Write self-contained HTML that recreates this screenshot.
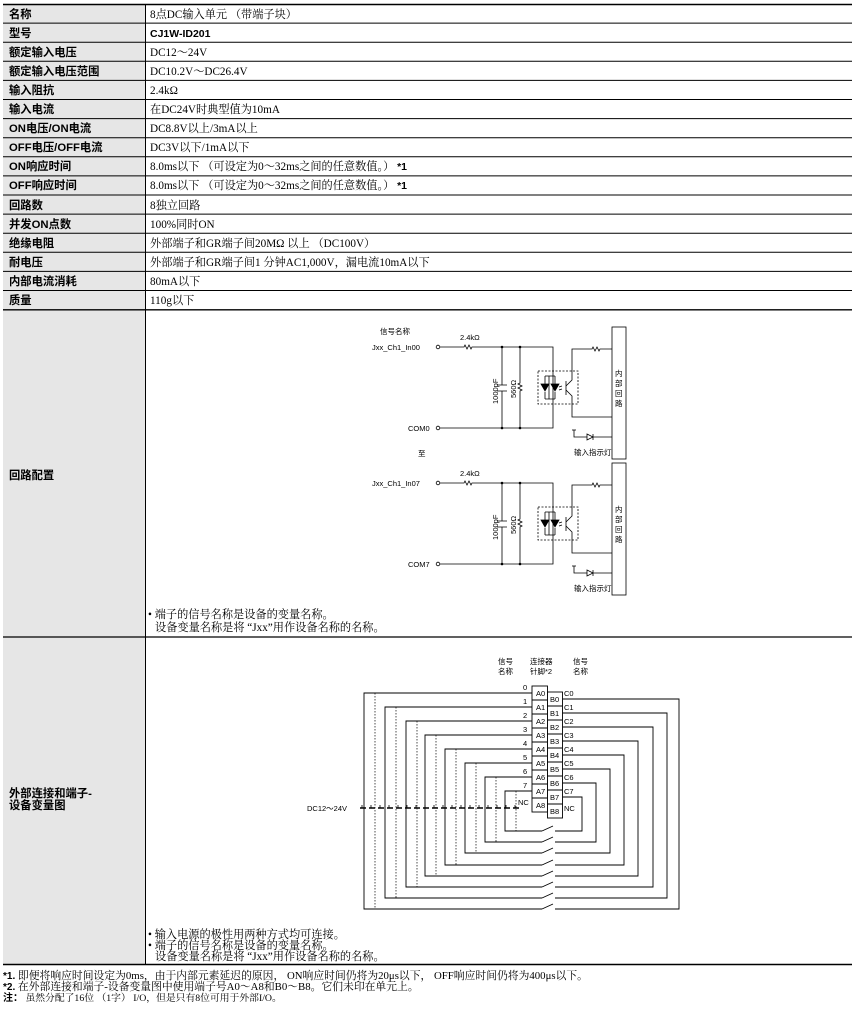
<!DOCTYPE html>
<html><head><meta charset="utf-8"><style>
html,body{margin:0;padding:0;background:#fff;width:855px;height:1009px;overflow:hidden}
svg{display:block}
.l{font-family:"Liberation Sans","Noto Sans CJK SC",sans-serif;font-weight:bold;font-size:11.3px}
.r{font-family:"Liberation Serif","Noto Serif CJK SC",serif;font-size:11.2px}
.n{font-family:"Liberation Serif","Noto Serif CJK SC",serif;font-size:11.2px}
.s{font-family:"Liberation Sans","Noto Sans CJK SC",sans-serif;font-size:7.5px}
.f{font-family:"Liberation Serif","Noto Serif CJK SC",serif;font-size:10.8px}
</style></head><body>
<svg width="855" height="1009" viewBox="0 0 855 1009" xmlns="http://www.w3.org/2000/svg">
<rect x="3" y="4" width="142" height="961" fill="#e6e6e6"/>
<g stroke="#000" stroke-width="1">
<line x1="3" y1="4.5" x2="852" y2="4.5" stroke-width="1.5"/>
<line x1="3" y1="23.1" x2="852" y2="23.1"/><line x1="3" y1="42.2" x2="852" y2="42.2"/>
<line x1="3" y1="61.3" x2="852" y2="61.3"/><line x1="3" y1="80.4" x2="852" y2="80.4"/>
<line x1="3" y1="99.5" x2="852" y2="99.5"/><line x1="3" y1="118.6" x2="852" y2="118.6"/>
<line x1="3" y1="137.7" x2="852" y2="137.7"/><line x1="3" y1="156.8" x2="852" y2="156.8"/>
<line x1="3" y1="175.9" x2="852" y2="175.9"/><line x1="3" y1="195" x2="852" y2="195"/>
<line x1="3" y1="214.1" x2="852" y2="214.1"/><line x1="3" y1="233.2" x2="852" y2="233.2"/>
<line x1="3" y1="252.3" x2="852" y2="252.3"/><line x1="3" y1="271.4" x2="852" y2="271.4"/>
<line x1="3" y1="290.5" x2="852" y2="290.5"/><line x1="3" y1="309.8" x2="852" y2="309.8" stroke-width="1.3"/>
<line x1="3" y1="637" x2="852" y2="637" stroke-width="1.3"/>
<line x1="3" y1="964.5" x2="852" y2="964.5" stroke-width="1.5"/>
<line x1="145.5" y1="4" x2="145.5" y2="965"/>
</g>
<g class="l">
<text x="9" y="18">名称</text><text x="9" y="37">型号</text><text x="9" y="56">额定输入电压</text>
<text x="9" y="75">额定输入电压范围</text><text x="9" y="94">输入阻抗</text><text x="9" y="113">输入电流</text>
<text x="9" y="132">ON电压/ON电流</text><text x="9" y="151">OFF电压/OFF电流</text><text x="9" y="170">ON响应时间</text>
<text x="9" y="189">OFF响应时间</text><text x="9" y="209">回路数</text><text x="9" y="228">并发ON点数</text>
<text x="9" y="247">绝缘电阻</text><text x="9" y="266">耐电压</text><text x="9" y="285">内部电流消耗</text>
<text x="9" y="304">质量</text><text x="9" y="479">回路配置</text>
<text x="9" y="797">外部连接和端子-</text><text x="9" y="809">设备变量图</text>
</g>
<g class="r">
<text x="150" y="18">8点DC输入单元 （带端子块）</text>
<text x="150" y="37" class="l" style="font-size:10.5px">CJ1W-ID201</text>
<text x="150" y="56">DC12～24V</text><text x="150" y="75">DC10.2V～DC26.4V</text>
<text x="150" y="94">2.4kΩ</text><text x="150" y="113">在DC24V时典型值为10mA</text>
<text x="150" y="132">DC8.8V以上/3mA以上</text><text x="150" y="151">DC3V以下/1mA以下</text>
<text x="150" y="170">8.0ms以下 （可设定为0～32ms之间的任意数值。） <tspan class="l" style="font-size:10.5px">*1</tspan></text>
<text x="150" y="189">8.0ms以下 （可设定为0～32ms之间的任意数值。） <tspan class="l" style="font-size:10.5px">*1</tspan></text>
<text x="150" y="209">8独立回路</text><text x="150" y="228">100%同时ON</text>
<text x="150" y="247">外部端子和GR端子间20MΩ 以上 （DC100V）</text>
<text x="150" y="266">外部端子和GR端子间1 分钟AC1,000V，漏电流10mA以下</text>
<text x="150" y="285">80mA以下</text><text x="150" y="304">110g以下</text>
</g>
<g class="n">
<text x="148" y="618">• 端子的信号名称是设备的变量名称。</text>
<text x="155" y="631">设备变量名称是将 “Jxx”用作设备名称的名称。</text>
<text x="148" y="938">• 输入电源的极性用两种方式均可连接。</text>
<text x="148" y="949">• 端子的信号名称是设备的变量名称。</text>
<text x="155" y="960">设备变量名称是将 “Jxx”用作设备名称的名称。</text>
</g>
<g class="f">
<text x="3" y="979"><tspan class="l" style="font-size:10px">*1.</tspan> 即便将响应时间设定为0ms，由于内部元素延迟的原因， ON响应时间仍将为20μs以下， OFF响应时间仍将为400μs以下。</text>
<text x="3" y="990"><tspan class="l" style="font-size:10px">*2.</tspan> 在外部连接和端子-设备变量图中使用端子号A0～A8和B0～B8。它们未印在单元上。</text>
<text x="3" y="1001" style="font-size:9.8px"><tspan class="l" style="font-size:10px">注：</tspan> 虽然分配了16位 （1字） I/O，但是只有8位可用于外部I/O。</text>
</g>
<defs>
<g id="ckt" fill="none" stroke="#000" stroke-width="0.8">
<circle cx="438" cy="347" r="1.8" fill="#fff"/><circle cx="438" cy="428" r="1.8" fill="#fff"/>
<path d="M440 347H464l1-2 2 4 2-4 2 4 1-2H553V428H440"/>
<path d="M502 347V385M502 391V428M497 385H507M497 391H507"/>
<path d="M520 347V383l-2 1 4 2-4 2 4 2-2 1V428"/>
<rect x="538" y="371" width="40" height="33" stroke-dasharray="2 1.5"/>
<path d="M549 376V399M545 376H549M545 399H549M545 376V384M545 392V399M555 376V384M555 392V399M549 376H555M549 399H555"/>
<path d="M541 384H549L545 391Z M551 384H559L555 391Z" fill="#000"/>
<path d="M559 387l3-1M559 390l3-1"/>
<path d="M566 381V395M566 386L572 380V349H592l1-2 2 4 2-4 2 4 1-2H612M566 390L572 396V417H612"/>
<path d="M574 430V437H587M593 437H612M587 434L593 437L587 440Z M593 434V440"/>
<path d="M572 430h4"/>
<rect x="612" y="327" width="14" height="132" fill="#fff"/>
</g>
</defs>
<use href="#ckt"/>
<use href="#ckt" y="136"/>
<g fill="#000"><circle cx="502" cy="347" r="1.3"/><circle cx="520" cy="347" r="1.3"/><circle cx="502" cy="428" r="1.3"/><circle cx="520" cy="428" r="1.3"/>
<circle cx="502" cy="483" r="1.3"/><circle cx="520" cy="483" r="1.3"/><circle cx="502" cy="564" r="1.3"/><circle cx="520" cy="564" r="1.3"/></g>
<g class="s">
<text x="380" y="334">信号名称</text>
<text x="460" y="340">2.4kΩ</text><text x="460" y="476">2.4kΩ</text>
<text x="372" y="350">Jxx_Ch1_In00</text><text x="372" y="486">Jxx_Ch1_In07</text>
<text x="408" y="431">COM0</text><text x="408" y="567">COM7</text>
<text x="418" y="456">至</text>
<text x="574" y="455">输入指示灯</text><text x="574" y="591">输入指示灯</text>
<text transform="translate(498,404) rotate(-90)">1000pF</text><text transform="translate(498,540) rotate(-90)">1000pF</text>
<text transform="translate(516,398) rotate(-90)">560Ω</text><text transform="translate(516,534) rotate(-90)">560Ω</text>
<text x="615" y="376">内</text><text x="615" y="386">部</text><text x="615" y="396">回</text><text x="615" y="406">路</text>
<text x="615" y="512">内</text><text x="615" y="522">部</text><text x="615" y="532">回</text><text x="615" y="542">路</text>
</g>
<g fill="none" stroke="#000" stroke-width="0.9">
<path d="M532 693H364V909H542M555 909H679V699H562"/>
<path d="M532 707H385V898H542M555 898H667V713H562"/>
<path d="M532 721H406V887H542M555 887H653V727H562"/>
<path d="M532 735H425V876H542M555 876H638V741H562"/>
<path d="M532 749H445V865H542M555 865H624V755H562"/>
<path d="M532 763H465V853H542M555 853H610V769H562"/>
<path d="M532 777H485V842H542M555 842H596V783H562"/>
<path d="M532 791H505V831H542M555 831H582V797H562"/>
<g stroke-dasharray="1.5 1.5" stroke-width="0.7">
<path d="M375 693V909M396 707V898M417 721V887M436 735V876M456 749V865M476 763V853M496 777V842M516 791V831"/>
</g>
<path d="M542 909l11-5M542 898l11-5M542 887l11-5M542 876l11-5M542 865l11-5M542 853l11-5M542 842l11-5M542 831l11-5"/>
<rect x="532" y="686" width="15.5" height="126" fill="#fff"/>
<rect x="547.5" y="692" width="15" height="126" fill="#fff"/>
<path d="M532 700H547.5M532 714H547.5M532 728H547.5M532 742H547.5M532 756H547.5M532 770H547.5M532 784H547.5M532 798H547.5"/>
<path d="M547.5 706H562.5M547.5 720H562.5M547.5 734H562.5M547.5 748H562.5M547.5 762H562.5M547.5 776H562.5M547.5 790H562.5M547.5 804H562.5"/>
<path d="M360 808H522" stroke-dasharray="6 3" stroke-width="1.4"/>
<path d="M362 805V808M371 805V808M380 805V808M389 805V808M398 805V808M407 805V808M416 805V808M425 805V808M434 805V808M443 805V808M452 805V808M461 805V808M470 805V808M479 805V808M488 805V808M497 805V808M506 805V808M515 805V808" stroke-width="0.8"/>
</g>
<g class="s">
<text x="498" y="664">信号</text><text x="498" y="674">名称</text>
<text x="530" y="664">连接器</text><text x="530" y="674">针脚*2</text>
<text x="573" y="664">信号</text><text x="573" y="674">名称</text>
<text x="536" y="696">A0</text><text x="536" y="710">A1</text><text x="536" y="724">A2</text><text x="536" y="738">A3</text><text x="536" y="752">A4</text><text x="536" y="766">A5</text><text x="536" y="780">A6</text><text x="536" y="794">A7</text><text x="536" y="808">A8</text>
<text x="550" y="702">B0</text><text x="550" y="716">B1</text><text x="550" y="730">B2</text><text x="550" y="744">B3</text><text x="550" y="758">B4</text><text x="550" y="772">B5</text><text x="550" y="786">B6</text><text x="550" y="800">B7</text><text x="550" y="814">B8</text>
<text x="523" y="690">0</text><text x="523" y="704">1</text><text x="523" y="718">2</text><text x="523" y="732">3</text><text x="523" y="746">4</text><text x="523" y="760">5</text><text x="523" y="774">6</text><text x="523" y="788">7</text><text x="518" y="805">NC</text>
<text x="564" y="696">C0</text><text x="564" y="710">C1</text><text x="564" y="724">C2</text><text x="564" y="738">C3</text><text x="564" y="752">C4</text><text x="564" y="766">C5</text><text x="564" y="780">C6</text><text x="564" y="794">C7</text><text x="564" y="811">NC</text>
<text x="307" y="811">DC12～24V</text>
</g>
</svg>
</body></html>
